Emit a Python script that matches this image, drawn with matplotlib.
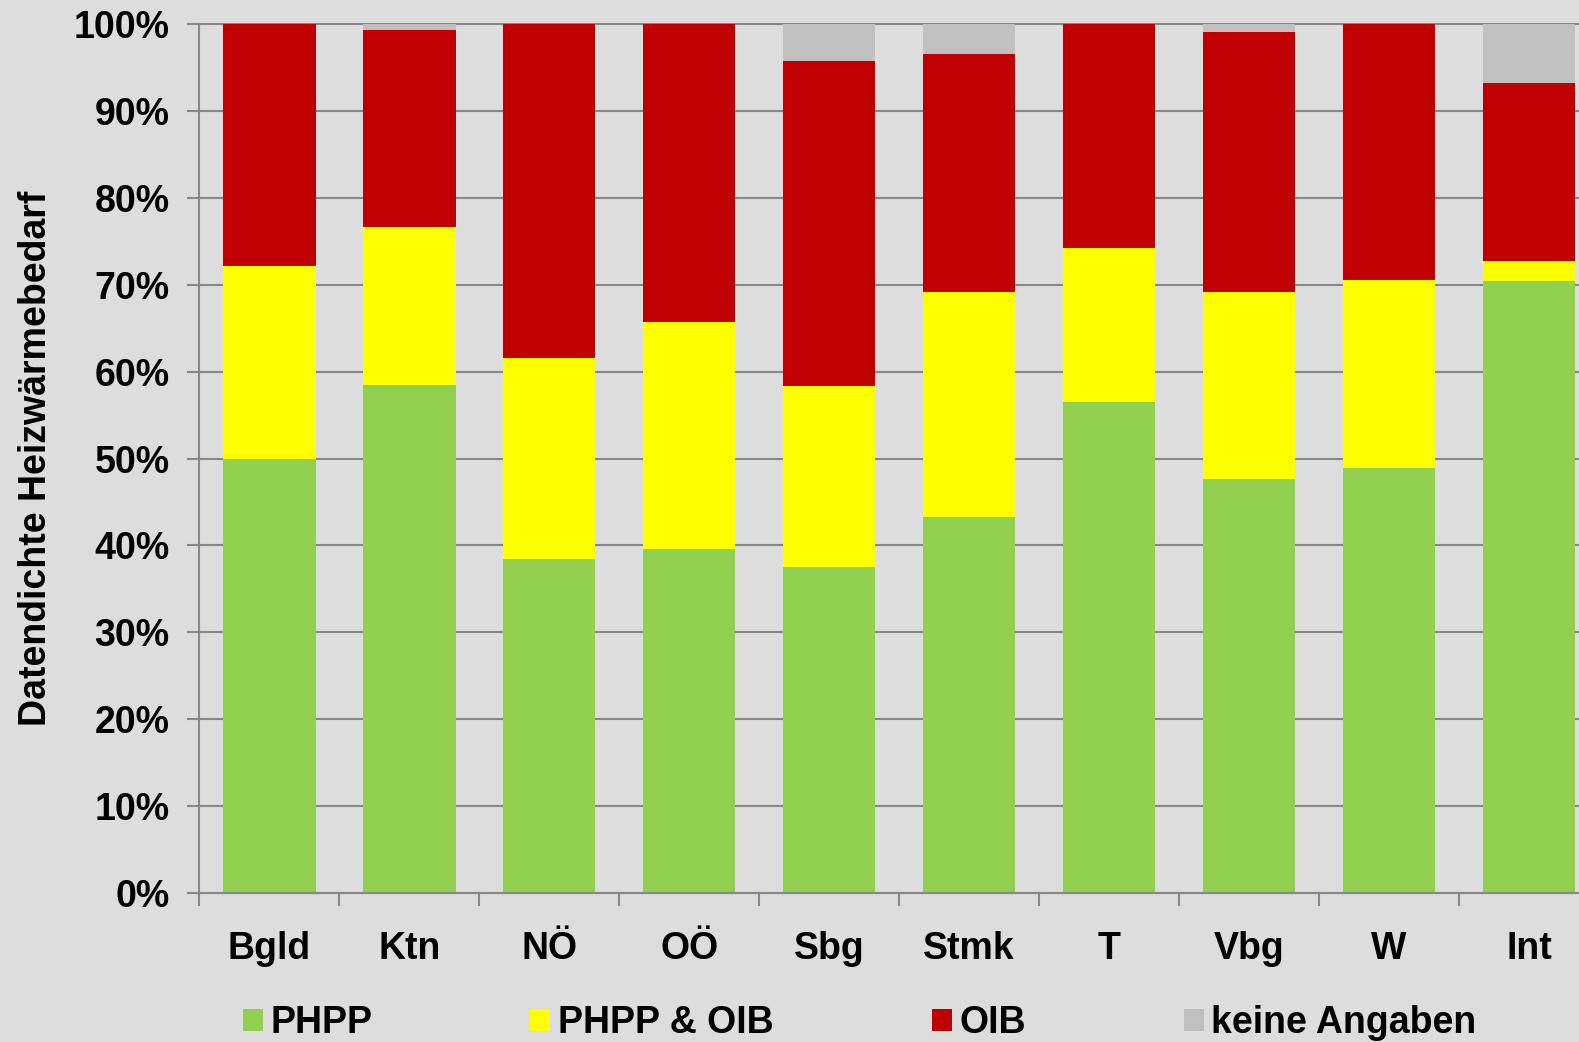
import matplotlib
matplotlib.use("Agg")
import matplotlib.pyplot as plt
import numpy as np
from matplotlib.ticker import FixedLocator, FuncFormatter

categories = ["Bgld", "Ktn", "NÖ", "OÖ", "Sbg", "Stmk", "T", "Vbg", "W", "Int"]
phpp = [50.0, 58.5, 38.5, 39.6, 37.5, 43.3, 56.5, 47.6, 48.9, 70.4]
phpp_oib = [22.2, 18.2, 23.1, 26.1, 20.9, 25.9, 17.7, 21.6, 21.6, 2.3]
oib = [27.8, 22.6, 38.4, 34.3, 37.4, 27.4, 25.8, 29.9, 29.5, 20.5]
keine = [0.0, 0.7, 0.0, 0.0, 4.2, 3.4, 0.0, 0.9, 0.0, 6.8]
series_names = ["PHPP", "PHPP & OIB", "OIB", "keine Angaben"]
colors = ["#92D050", "#FFFF00", "#C00000", "#C0C0C0"]

bg = "#DDDDDD"
gridc = "#878787"
fs = 27
plt.rcParams['font.family'] = ['Liberation Sans', 'DejaVu Sans']
plt.rcParams['font.weight'] = 'bold'

fig = plt.figure(figsize=(15.79, 10.42), dpi=100, facecolor=bg)
W, H = 1579, 1042
left_px, right_px, top_px, bot_px = 199.4, 1599.0, 24.2, 893.0
ax = fig.add_axes([left_px / W, 1 - bot_px / H, (right_px - left_px) / W, (bot_px - top_px) / H])
ax.set_facecolor(bg)

x = np.arange(len(categories))
bottom = np.zeros(len(categories))
for vals, name, c in zip([phpp, phpp_oib, oib, keine], series_names, colors):
    v = np.array(vals)
    ax.bar(x, v, width=0.66, bottom=bottom, color=c, label=name, zorder=2, linewidth=0)
    bottom += v

ax.set_xlim(-0.5, len(categories) - 0.5)
ax.set_ylim(0, 100)
ax.set_yticks(np.arange(0, 101, 10))
ax.yaxis.set_major_formatter(FuncFormatter(lambda v, p: f"{int(v)}%"))
ax.grid(axis='y', color=gridc, linewidth=1.5, zorder=0)
ax.set_axisbelow(True)
for g in ax.get_ygridlines():
    g.set_clip_on(False)

ax.set_xticks(x)
ax.set_xticklabels(categories)
ax.xaxis.set_minor_locator(FixedLocator(np.arange(-0.5, len(categories), 1.0)))
ax.tick_params(axis='x', which='major', length=0, pad=27.5, labelsize=fs)
ax.tick_params(axis='x', which='minor', length=9, width=1.5, color=gridc, direction='out')
ax.tick_params(axis='y', which='major', length=9, width=1.5, color=gridc, pad=12.5, labelsize=fs)

for s in ['top', 'right']:
    ax.spines[s].set_visible(False)
for s in ['left', 'bottom']:
    ax.spines[s].set_color(gridc)
    ax.spines[s].set_linewidth(1.5)

ax.set_ylabel("Datendichte Heizwärmebedarf", fontsize=fs, fontweight='bold')
ax.yaxis.set_label_coords((54 - left_px) / (right_px - left_px), 0.5)

handles, labels = ax.get_legend_handles_labels()
leg = fig.legend(handles, labels, loc='center', bbox_to_anchor=(0.5445, 1 - 1023 / H), ncol=4,
                 frameon=False, fontsize=fs, handlelength=0.53, handleheight=0.53,
                 handletextpad=0.2, columnspacing=4.22, borderaxespad=0, borderpad=0)

fig.savefig("out.png", dpi=100, facecolor=bg)
